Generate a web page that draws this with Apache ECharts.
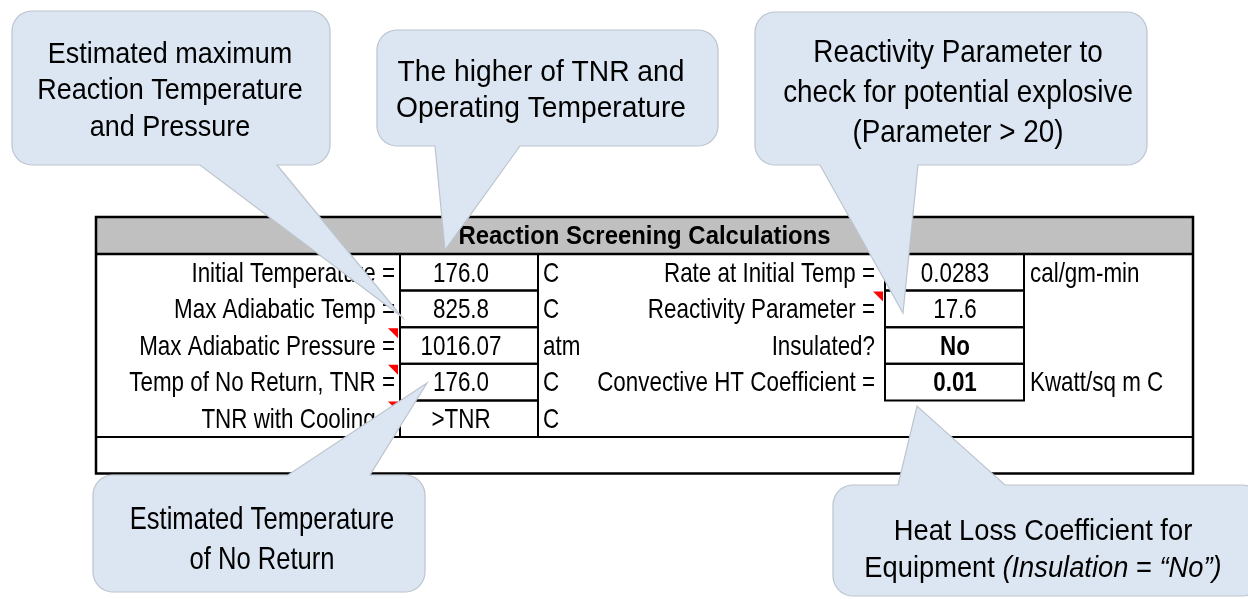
<!DOCTYPE html>
<html>
<head>
<meta charset="utf-8">
<script src="https://cdn.jsdelivr.net/npm/echarts@6/dist/echarts.min.js"></script>
<style>html,body{margin:0;padding:0;background:#fff;}#c{width:1248px;height:599px;}</style>
</head>
<body>
<div id="c"></div>
<script>
// ---- data ----
const tableTitle = 'Reaction Screening Calculations';
const leftLabels = ['Initial Temperature =', 'Max Adiabatic Temp =', 'Max Adiabatic Pressure =', 'Temp of No Return, TNR =', 'TNR with Cooling ='];
const leftValues = ['176.0', '825.8', '1016.07', '176.0', '>TNR'];
const leftUnits = ['C', 'C', 'atm', 'C', 'C'];
const leftComment = [false, false, true, true, true];
const rightLabels = ['Rate at Initial Temp =', 'Reactivity Parameter =', 'Insulated?', 'Convective HT Coefficient ='];
const rightValues = ['0.0283', '17.6', 'No', '0.01'];
const rightUnits = ['cal/gm-min', '', '', 'Kwatt/sq m C'];
const rightBold = [false, false, true, true];
const rightComment = [false, true, false, false];
const calloutTexts = [
  'Estimated maximum\nReaction Temperature\nand Pressure',
  'The higher of TNR and\nOperating Temperature',
  'Reactivity Parameter to\ncheck for potential explosive\n(Parameter > 20)',
  'Estimated Temperature\nof No Return',
  'Heat Loss Coefficient for\nEquipment {i|(Insulation} = {i|\u201cNo\u201d)}'
];

// ---- layout ----
const FONT = '"Liberation Sans", Arial, Helvetica, sans-serif';
const T = {left: 96, right: 1193, top: 217, headBottom: 254, rowH: 36.6};
const C = {labelRight: 395, v1L: 400, v1R: 538, v1C: 461, u1L: 543, label2Right: 875, v2L: 885, v2R: 1024, v2C: 955, u2L: 1030};
const rowTop = i => T.headBottom + i * T.rowH;
const rowMid = i => rowTop(i) + T.rowH / 2 + 1.5;
const tableBottom = rowTop(6);

const calloutLayout = [
  {box: [12, 11, 330, 165], side: 'bottom', a: 200, c: 277, tip: [402, 317], cx: 170, cy: 91, fs: 30, sx: 0.9, lh: 36.5},
  {box: [377, 30, 718, 146], side: 'bottom', a: 435, c: 520, tip: [445, 250], cx: 541, cy: 91, fs: 30, sx: 0.94, lh: 36},
  {box: [755, 12, 1147, 165], side: 'bottom', a: 820, c: 918, tip: [903, 313], cx: 958, cy: 93, fs: 32, sx: 0.87, lh: 40},
  {box: [93, 475, 425, 592], side: 'top', a: 288, c: 370, tip: [427, 383], cx: 262, cy: 540, fs: 32, sx: 0.8, lh: 40},
  {box: [833, 485, 1262, 596], side: 'top', a: 898, c: 1005, tip: [917, 406], cx: 1043, cy: 550, fs: 30, sx: 0.91, lh: 37}
];

function text(x, y, s, o) {
  o = o || {};
  const align = o.align || 'left';
  return {
    type: 'text', x: x, y: y, scaleX: o.sx == null ? 0.8 : o.sx, z: o.z || 20, silent: true,
    style: {
      text: s, x: 0, y: 0, fill: '#000', fontFamily: FONT, fontSize: o.fs || 28,
      fontWeight: o.fw || 'normal', align: align, textAlign: align,
      verticalAlign: 'middle', textVerticalAlign: 'middle',
      lineHeight: o.lh, rich: o.rich
    }
  };
}
function line(x1, y1, x2, y2, w) {
  return {type: 'line', z: 10, silent: true, shape: {x1, y1, x2, y2}, style: {stroke: '#000', lineWidth: w || 2}};
}
function box(x, y, w, h, lw) {
  return {type: 'rect', z: 10, silent: true, shape: {x, y, width: w, height: h}, style: {fill: null, stroke: '#000', lineWidth: lw || 2}};
}
function redTri(xr, yt) {
  return {type: 'polygon', z: 15, silent: true, shape: {points: [[xr - 10, yt], [xr, yt], [xr, yt + 10]]}, style: {fill: '#ff0000'}};
}
function arcPts(cx, cy, r, a0, a1) {
  const pts = [];
  const n = 10;
  for (let k = 0; k <= n; k++) {
    const a = (a0 + (a1 - a0) * k / n) * Math.PI / 180;
    pts.push([cx + r * Math.cos(a), cy + r * Math.sin(a)]);
  }
  return pts;
}
function calloutShape(L) {
  const [x1, y1, x2, y2] = L.box;
  const r = 20;
  let pts = [];
  pts.push([x1 + r, y1]);
  if (L.side === 'top') { pts.push([L.a, y1], L.tip, [L.c, y1]); }
  pts = pts.concat(arcPts(x2 - r, y1 + r, r, -90, 0));
  pts = pts.concat(arcPts(x2 - r, y2 - r, r, 0, 90));
  if (L.side === 'bottom') { pts.push([L.c, y2], L.tip, [L.a, y2]); }
  pts = pts.concat(arcPts(x1 + r, y2 - r, r, 90, 180));
  pts = pts.concat(arcPts(x1 + r, y1 + r, r, 180, 270));
  return {type: 'polygon', z: 30, silent: true, shape: {points: pts}, style: {fill: '#dce6f2', stroke: '#bcc4ce', lineWidth: 1.2}};
}

const els = [];
// header
els.push({type: 'rect', z: 5, silent: true, shape: {x: T.left, y: T.top, width: T.right - T.left, height: T.headBottom - T.top}, style: {fill: '#c0c0c0'}});
els.push(text((T.left + T.right) / 2, (T.top + T.headBottom) / 2 + 1, tableTitle, {align: 'center', fw: 'bold', fs: 26, sx: 0.92}));
// outer frame & full-width lines
els.push(box(T.left, T.top, T.right - T.left, tableBottom - T.top, 2.5));
els.push(line(T.left, T.headBottom, T.right, T.headBottom, 2.5));
els.push(line(T.left, rowTop(5), T.right, rowTop(5), 2));
// left block
leftLabels.forEach((s, i) => {
  els.push(text(C.labelRight, rowMid(i), s, {align: 'right'}));
  els.push(box(C.v1L, rowTop(i), C.v1R - C.v1L, T.rowH, 2));
  els.push(text(C.v1C, rowMid(i), leftValues[i], {align: 'center'}));
  els.push(text(C.u1L, rowMid(i), leftUnits[i], {}));
  if (leftComment[i]) els.push(redTri(C.v1L - 2, rowTop(i) + 1));
});
// right block
rightLabels.forEach((s, i) => {
  els.push(text(C.label2Right, rowMid(i), s, {align: 'right'}));
  els.push(box(C.v2L, rowTop(i), C.v2R - C.v2L, T.rowH, 2));
  els.push(text(C.v2C, rowMid(i), rightValues[i], {align: 'center', fw: rightBold[i] ? 'bold' : 'normal'}));
  if (rightUnits[i]) els.push(text(C.u2L, rowMid(i), rightUnits[i], {}));
  if (rightComment[i]) els.push(redTri(C.v2L - 2, rowTop(i) + 1));
});
// callouts
calloutLayout.forEach((L, i) => {
  els.push(calloutShape(L));
  const o = {align: 'center', fs: L.fs, sx: L.sx, lh: L.lh, z: 40};
  if (i === 4) o.rich = {i: {fontStyle: 'italic', fontFamily: FONT, fontSize: L.fs, lineHeight: L.lh, fill: '#000'}};
  els.push(text(L.cx, L.cy, calloutTexts[i], o));
});

const chart = echarts.init(document.getElementById('c'), null, {renderer: 'canvas'});
chart.setOption({
  backgroundColor: '#ffffff',
  animation: false,
  graphic: {elements: els}
});
</script>
</body>
</html>
